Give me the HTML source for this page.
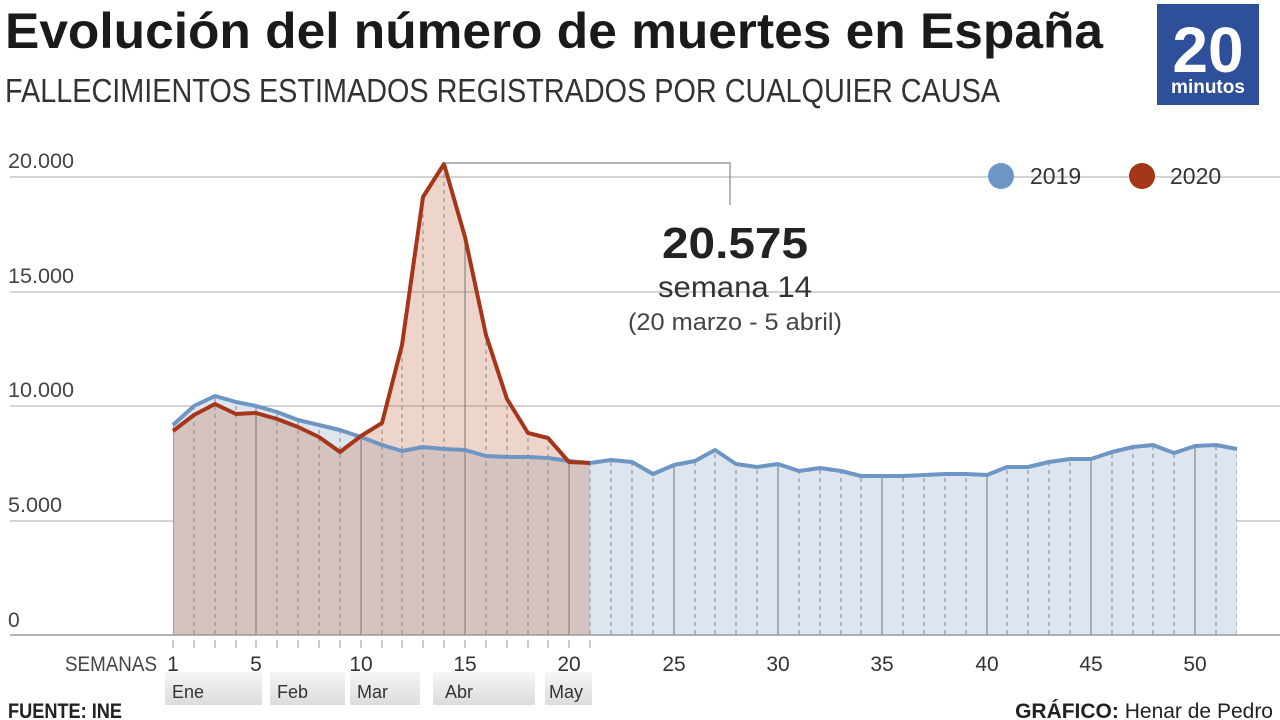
<!DOCTYPE html>
<html><head><meta charset="utf-8"><style>
html,body{margin:0;padding:0;background:#fff;width:1280px;height:720px;overflow:hidden}
svg text{font-family:"Liberation Sans",sans-serif}
</style></head><body>
<svg width="1280" height="720" viewBox="0 0 1280 720" xmlns="http://www.w3.org/2000/svg">
<defs>
<linearGradient id="mg" x1="0" y1="0" x2="0" y2="1"><stop offset="0" stop-color="#f6f6f6"/><stop offset="1" stop-color="#dcdcdc"/></linearGradient>
<clipPath id="cp">
<path d="M173 635 L173 425 L194 406 L215 396 L236 402 L256 406 L277 412 L298 420 L319 425 L340 430 L361 437 L382 445 L402 451 L423 447 L444 449 L465 450 L486 456 L507 457 L528 457 L548 458 L569 461 L590 463 L611 460 L632 462 L653 474 L674 465 L695 461 L715 450 L736 464 L757 467 L778 464 L799 471 L820 468 L841 471 L861 476 L882 476 L903 476 L924 475 L945 474 L966 474 L987 475 L1007 467 L1028 467 L1049 462 L1070 459 L1091 459 L1112 452 L1133 447 L1153 445 L1174 453 L1195 446 L1216 445 L1237 449 L1237 635Z"/>
<path d="M173 635 L173 431 L194 415 L215 404 L236 414 L256 413 L277 419 L298 427 L319 437 L340 452 L361 436 L382 423 L402 345 L423 197 L444 164 L465 237 L486 335 L507 399 L528 433 L548 438 L569 462 L590 463 L590 635Z"/>
</clipPath>
</defs>
<text x="5" y="48" font-size="50" font-weight="bold" fill="#1a1a1a" textLength="1098" lengthAdjust="spacingAndGlyphs">Evolución del número de muertes en España</text>
<text x="5" y="102" font-size="33" fill="#333" textLength="995" lengthAdjust="spacingAndGlyphs">FALLECIMIENTOS ESTIMADOS REGISTRADOS POR CUALQUIER CAUSA</text>
<rect x="1157" y="4" width="102" height="101" fill="#2e4f99"/>
<text x="1208" y="72" font-size="64" font-weight="bold" fill="#fff" text-anchor="middle">20</text>
<text x="1208" y="93" font-size="19" font-weight="bold" fill="#fff" text-anchor="middle">minutos</text>
<g stroke="#aaa" stroke-width="1">
<line x1="10" y1="177" x2="1280" y2="177"/><line x1="10" y1="292" x2="1280" y2="292"/>
<line x1="10" y1="406" x2="1280" y2="406"/><line x1="10" y1="521" x2="1280" y2="521"/>
</g>
<g font-size="21" fill="#444">
<text x="8" y="168" textLength="66" lengthAdjust="spacingAndGlyphs">20.000</text><text x="8" y="283" textLength="66" lengthAdjust="spacingAndGlyphs">15.000</text><text x="8" y="397" textLength="66" lengthAdjust="spacingAndGlyphs">10.000</text><text x="8" y="512" textLength="54" lengthAdjust="spacingAndGlyphs">5.000</text><text x="8" y="627">0</text>
</g>
<!-- areas -->
<path d="M173 635 L173 425 L194 406 L215 396 L236 402 L256 406 L277 412 L298 420 L319 425 L340 430 L361 437 L382 445 L402 451 L423 447 L444 449 L465 450 L486 456 L507 457 L528 457 L548 458 L569 461 L590 463 L611 460 L632 462 L653 474 L674 465 L695 461 L715 450 L736 464 L757 467 L778 464 L799 471 L820 468 L841 471 L861 476 L882 476 L903 476 L924 475 L945 474 L966 474 L987 475 L1007 467 L1028 467 L1049 462 L1070 459 L1091 459 L1112 452 L1133 447 L1153 445 L1174 453 L1195 446 L1216 445 L1237 449 L1237 635Z" fill="#dde5ef"/>
<path d="M173 635 L173 431 L194 415 L215 404 L236 414 L256 413 L277 419 L298 427 L319 437 L340 452 L361 436 L382 423 L402 345 L423 197 L444 164 L465 237 L486 335 L507 399 L528 433 L548 438 L569 462 L590 463 L590 635Z" fill="rgba(196,116,84,0.3)"/>
<g clip-path="url(#cp)" stroke-width="1">
<path stroke="#888" stroke-dasharray="4,4" d="M194 150V635M215 150V635M236 150V635M277 150V635M298 150V635M319 150V635M340 150V635M382 150V635M402 150V635M423 150V635M444 150V635M486 150V635M507 150V635M528 150V635M548 150V635M590 150V635M611 150V635M632 150V635M653 150V635M695 150V635M715 150V635M736 150V635M757 150V635M799 150V635M820 150V635M841 150V635M861 150V635M903 150V635M924 150V635M945 150V635M966 150V635M1007 150V635M1028 150V635M1049 150V635M1070 150V635M1112 150V635M1133 150V635M1153 150V635M1174 150V635M1216 150V635M1237 150V635"/>
<path stroke="#777" d="M173 150V635M256 150V635M361 150V635M465 150V635M569 150V635M674 150V635M778 150V635M882 150V635M987 150V635M1091 150V635M1195 150V635"/>
</g>
<polyline points="173,425 194,406 215,396 236,402 256,406 277,412 298,420 319,425 340,430 361,437 382,445 402,451 423,447 444,449 465,450 486,456 507,457 528,457 548,458 569,461 590,463 611,460 632,462 653,474 674,465 695,461 715,450 736,464 757,467 778,464 799,471 820,468 841,471 861,476 882,476 903,476 924,475 945,474 966,474 987,475 1007,467 1028,467 1049,462 1070,459 1091,459 1112,452 1133,447 1153,445 1174,453 1195,446 1216,445 1237,449" fill="none" stroke="#6e96c4" stroke-width="4" stroke-linejoin="round"/>
<polyline points="173,431 194,415 215,404 236,414 256,413 277,419 298,427 319,437 340,452 361,436 382,423 402,345 423,197 444,164 465,237 486,335 507,399 528,433 548,438 569,462 590,463" fill="none" stroke="#a5361a" stroke-width="4" stroke-linejoin="round"/>
<line x1="10" y1="635" x2="1280" y2="635" stroke="#999" stroke-width="1.5"/>
<path stroke="#999" stroke-width="1" d="M173 640V648M194 640V648M215 640V648M236 640V648M256 640V648M277 640V648M298 640V648M319 640V648M340 640V648M361 640V648M382 640V648M402 640V648M423 640V648M444 640V648M465 640V648M486 640V648M507 640V648M528 640V648M548 640V648M569 640V648M590 640V648"/>
<path d="M444 163 H730 V205" fill="none" stroke="#888" stroke-width="1.2"/>
<text x="735" y="258" font-size="44" font-weight="bold" fill="#222" text-anchor="middle" textLength="146" lengthAdjust="spacingAndGlyphs">20.575</text>
<text x="735" y="297" font-size="30" fill="#333" text-anchor="middle" textLength="154" lengthAdjust="spacingAndGlyphs">semana 14</text>
<text x="735" y="330" font-size="24" fill="#444" text-anchor="middle" textLength="214" lengthAdjust="spacingAndGlyphs">(20 marzo - 5 abril)</text>
<circle cx="1001" cy="176" r="13" fill="#6e96c4"/><text x="1030" y="184" font-size="23" fill="#333">2019</text>
<circle cx="1142" cy="176" r="13" fill="#a5361a"/><text x="1170" y="184" font-size="23" fill="#333">2020</text>
<g fill="url(#mg)">
<rect x="165" y="672" width="97" height="33"/><rect x="270" y="672" width="75" height="33"/>
<rect x="350" y="672" width="70" height="33"/><rect x="433" y="672" width="102" height="33"/>
<rect x="545" y="672" width="47" height="33"/>
</g>
<g font-size="18" fill="#333">
<text x="172" y="698">Ene</text><text x="277" y="698">Feb</text><text x="357" y="698">Mar</text><text x="445" y="698">Abr</text><text x="549" y="698">May</text>
</g>
<text x="157" y="671" font-size="21" fill="#444" text-anchor="end" textLength="92" lengthAdjust="spacingAndGlyphs">SEMANAS</text>
<g font-size="21" fill="#333" text-anchor="middle">
<text x="173" y="671">1</text><text x="256" y="671">5</text><text x="361" y="671">10</text><text x="465" y="671">15</text><text x="569" y="671">20</text><text x="674" y="671">25</text><text x="778" y="671">30</text><text x="882" y="671">35</text><text x="987" y="671">40</text><text x="1091" y="671">45</text><text x="1195" y="671">50</text>
</g>
<text x="8" y="718" font-size="21" font-weight="bold" fill="#222" textLength="114" lengthAdjust="spacingAndGlyphs">FUENTE: INE</text>
<text x="1273" y="718" font-size="21" fill="#222" text-anchor="end"><tspan font-weight="bold">GRÁFICO:</tspan> Henar de Pedro</text>
</svg>
</body></html>
